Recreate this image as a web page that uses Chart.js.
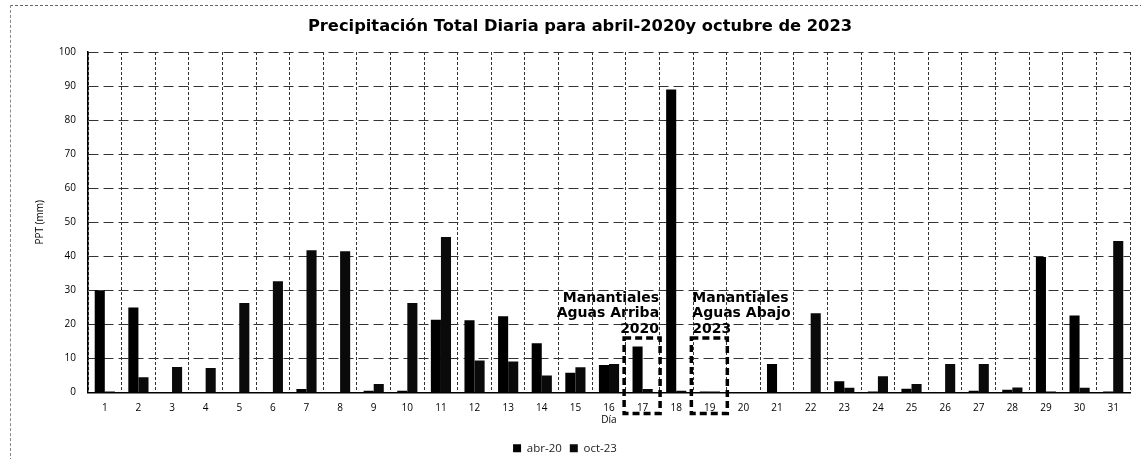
<!DOCTYPE html>
<html lang="es">
<head>
<meta charset="utf-8">
<title>Precipitación Total Diaria</title>
<script src="https://cdn.jsdelivr.net/npm/chart.js@4/dist/chart.umd.min.js"></script>
<style>
  html, body { margin: 0; padding: 0; background: #fff; }
  #wrap { position: relative; width: 1141px; height: 459px; }
  #frame {
    position: absolute; left: 10px; top: 5px; right: -2px; bottom: -2px;
    border-top: 1px dashed #666; border-left: 1px dashed #888;
  }
  #chart { position: absolute; left: 0; top: 0; }
</style>
</head>
<body>
<div id="wrap">
  <div id="frame"></div>
  <canvas id="chart" width="1141" height="459"></canvas>
</div>
<script>
// Días del mes
const dias = Array.from({ length: 31 }, (_, i) => String(i + 1));

// Precipitación diaria (mm)
const abr20 = [30, 25, 0, 0, 0, 0, 1, 0, 0.5, 0.5, 21.4, 21.2, 22.4, 14.5, 5.8, 8.1,
  13.5, 89, 0.3, 0, 8.4, 0, 3.3, 0.3, 1.1, 0, 0.5, 0.8, 39.8, 22.6, 0.3];
const oct23 = [0.3, 4.5, 7.5, 7.2, 26.3, 32.7, 41.8, 41.5, 2.5, 26.3, 45.7, 9.4, 9.1,
  5, 7.4, 8.4, 1, 0.5, 0.3, 0, 0, 23.3, 1.4, 4.8, 2.5, 8.4, 8.4, 1.5, 0.3, 1.4, 44.5];

const titulo = "Precipitación Total Diaria para abril-2020y octubre de 2023";

// Recuadros de los muestreos de manantiales
const cuadros = [
  { dia: "17", lineas: ["Manantiales", "Aguas Arriba", "2020"], lado: "right" },
  { dia: "19", lineas: ["Manantiales", "Aguas Abajo", "2023"], lado: "left" },
];
const cuadroTope = 16;

const FONT = "'Open Sans', 'DejaVu Sans', sans-serif";
const FONT_BOLD = "'DejaVu Sans', 'Open Sans', sans-serif";

// título un poco a la izquierda del centro del área de trazado
const tituloPlugin = {
  id: "titulo",
  afterDraw(chart) {
    const { ctx } = chart;
    ctx.save();
    ctx.fillStyle = "#000";
    ctx.font = "bold 16.3px " + FONT_BOLD;
    ctx.textAlign = "center";
    ctx.textBaseline = "middle";
    ctx.fillText(titulo, 580, 27);
    ctx.restore();
  },
};

const cuadrosPlugin = {
  id: "cuadros",
  afterDatasetsDraw(chart) {
    const { ctx, scales: { x, y } } = chart;
    const paso = x.getPixelForValue(1) - x.getPixelForValue(0);
    ctx.save();
    cuadros.forEach(c => {
      const cx = x.getPixelForValue(dias.indexOf(c.dia));
      const x0 = cx - paso * 0.55;
      const x1 = cx + paso * 0.52;
      const y0 = y.getPixelForValue(cuadroTope);
      const y1 = y.getPixelForValue(0) + 21;
      ctx.strokeStyle = "#000";
      ctx.lineWidth = 3.5;
      ctx.setLineDash([7, 4]);
      ctx.strokeRect(x0, y0, x1 - x0, y1 - y0);
      ctx.setLineDash([]);
      ctx.fillStyle = "#000";
      ctx.font = "bold 14px " + FONT_BOLD;
      ctx.textBaseline = "middle";
      ctx.textAlign = c.lado;
      const tx = c.lado === "right" ? x1 - 1 : x0 + 1;
      c.lineas.forEach((t, i) => {
        ctx.fillText(t, tx, y0 - 40 + i * 15.5);
      });
    });
    ctx.restore();
  },
};

new Chart(document.getElementById("chart"), {
  type: "bar",
  data: {
    labels: dias,
    datasets: [
      { label: "abr-20", data: abr20, backgroundColor: "#000", borderWidth: 0 },
      { label: "oct-23", data: oct23, backgroundColor: "#0a0a0a", borderWidth: 0 },
    ],
  },
  plugins: [cuadrosPlugin, tituloPlugin],
  options: {
    responsive: false,
    animation: false,
    datasets: {
      bar: { categoryPercentage: 0.6, barPercentage: 1.0 },
    },
    layout: { padding: { left: 0, right: 11, top: 52, bottom: -5 } },
    plugins: {
      title: { display: false },
      legend: {
        position: "bottom",
        labels: {
          color: "#222",
          boxWidth: 8,
          boxHeight: 8,
          padding: 8,
          font: { family: FONT, size: 11.5 },
        },
      },
      tooltip: { enabled: false },
    },
    scales: {
      x: {
        afterFit: s => { s.height = 42; },
        grid: { color: "#333", lineWidth: 1, drawTicks: false },
        border: { display: true, color: "#000", width: 1.5, dash: [3, 2] },
        ticks: {
          color: "#000",
          padding: 10,
          maxRotation: 0,
          autoSkip: false,
          font: { family: FONT, size: 10 },
        },
        title: {
          display: true,
          text: "Día",
          color: "#000",
          font: { family: FONT, size: 10 },
          padding: { top: 0, bottom: 8 },
        },
      },
      y: {
        min: 0,
        max: 100,
        afterFit: s => { s.width = 88; },
        grid: { color: "#333", lineWidth: 1, drawTicks: false },
        border: { display: true, color: "#000", width: 1.5, dash: [10, 5] },
        ticks: {
          stepSize: 10,
          color: "#000",
          padding: 12,
          font: { family: FONT, size: 10 },
        },
        title: {
          display: true,
          text: "PPT (mm)",
          color: "#000",
          font: { family: FONT, size: 10 },
          padding: { top: 34, bottom: 0 },
        },
      },
    },
  },
});
</script>
</body>
</html>
